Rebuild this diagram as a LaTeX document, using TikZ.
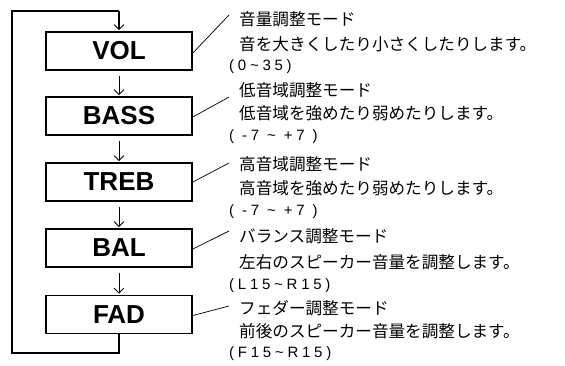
\documentclass[tikz,border=0pt]{standalone}
\usepackage{fontspec}
\setmainfont{Liberation Sans}
\newfontfamily\jpfont{Noto Sans CJK JP}
\usetikzlibrary{arrows.meta}
\begin{document}
\begin{tikzpicture}[x=1pt,y=-1pt,
  modebox/.style={draw, line width=1.8pt, minimum width=146pt, minimum height=38pt, inner sep=0pt,
    font=\bfseries\fontsize{26}{26}\selectfont},
  jptext/.style={anchor=west, inner sep=0pt, font=\jpfont\fontsize{16.6}{17}\selectfont},
  rangetext/.style={anchor=west, inner sep=0pt, font=\fontsize{15}{15}\selectfont\addfontfeature{LetterSpace=25}},
  flow/.style={line width=0.8pt, -{Straight Barb[length=5pt,width=10pt]}, shorten <=5pt, shorten >=1pt},
  loopline/.style={line width=1.8pt},
  leader/.style={line width=0.7pt}]
\useasboundingbox (0,0) rectangle (565,365);

\node[modebox] (vol)  at (119,51)  {VOL};
\node[modebox] (bass) at (119,116) {BASS};
\node[modebox] (treb) at (119,182) {TREB};
\node[modebox] (bal)  at (119,248) {BAL};
\node[modebox] (fad)  at (119,314.5) {FAD};

\draw[flow] (vol) -- (bass);
\draw[flow] (bass) -- (treb);
\draw[flow] (treb) -- (bal);
\draw[flow] (bal) -- (fad);

\coordinate (lb) at (119,353);
\coordinate (ll) at (12,353);
\coordinate (lt) at (12,11);
\coordinate (lr) at (119,11);
\draw[loopline] (fad.south) -- (lb) -- (ll) -- (lt) -- (lr);
\draw[line width=1.2pt, -{Straight Barb[length=5pt,width=10pt,line width=0.8pt]}, shorten >=1pt] (lr) -- (vol.north);

% texts
\node[jptext] (t1a) at (239,19)  {音量調整モード};
\node[jptext] (t1b) at (239,44)  {音を大きくしたり小さくしたりします。};
\node[rangetext] (t1c) at (229,67) {(0\textasciitilde35)};
\node[jptext] (t2a) at (239,90)  {低音域調整モード};
\node[jptext] (t2b) at (239,113) {低音域を強めたり弱めたりします。};
\node[rangetext] (t2c) at (229,137) {( -7 \textasciitilde\ +7 )};
\node[jptext] (t3a) at (239,164) {高音域調整モード};
\node[jptext] (t3b) at (239,188) {高音域を強めたり弱めたりします。};
\node[rangetext] (t3c) at (229,212) {( -7 \textasciitilde\ +7 )};
\node[jptext] (t4a) at (239,236) {バランス調整モード};
\node[jptext] (t4b) at (239,262) {左右のスピーカー音量を調整します。};
\node[rangetext] (t4c) at (229,286) {(L15\textasciitilde R15)};
\node[jptext] (t5a) at (239,308) {フェダー調整モード};
\node[jptext] (t5b) at (239,331) {前後のスピーカー音量を調整します。};
\node[rangetext] (t5c) at (229,354) {(F15\textasciitilde R15)};

% leaders
\coordinate (e1) at (229,15);
\coordinate (e2) at (229,97);
\coordinate (e3) at (229,163);
\coordinate (e4) at (229,231);
\coordinate (e5) at (229,306);
\draw[leader] ([yshift=-2pt]vol.east) -- (e1);
\draw[leader] ([yshift=-1pt]bass.east) -- (e2);
\draw[leader] (treb.east) -- (e3);
\draw[leader] ([yshift=-1pt]bal.east) -- (e4);
\draw[leader] ([yshift=-1pt]fad.east) -- (e5);
\end{tikzpicture}
\end{document}
